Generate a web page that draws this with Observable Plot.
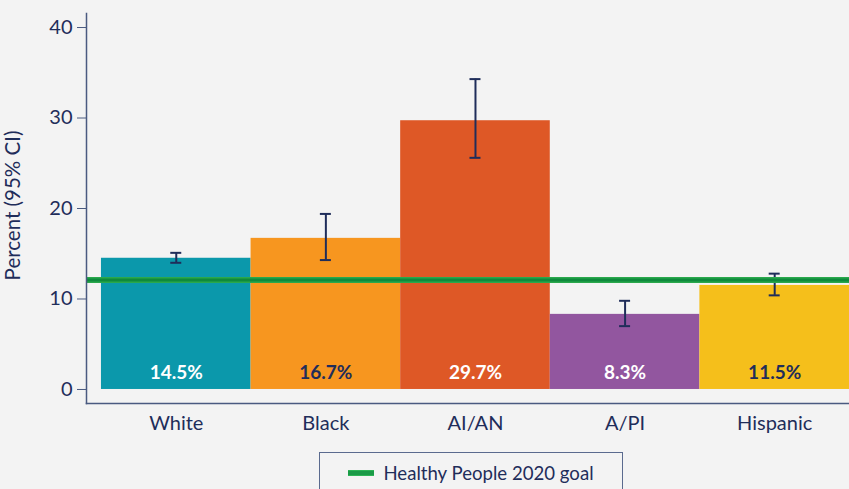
<!DOCTYPE html>
<html>
<head>
<meta charset="utf-8">
<script src="https://cdn.jsdelivr.net/npm/d3@7"></script>
<script src="https://cdn.jsdelivr.net/npm/@observablehq/plot@0.6"></script>
<style>
  html, body { margin: 0; padding: 0; background: #f3f3f3; }
  body { width: 849px; height: 489px; overflow: hidden; font-family: Lato, "Noto Sans", sans-serif; }
  #chart svg { display: block; }
  .legend {
    position: absolute; left: 319px; top: 452px; width: 304px; height: 42px;
    border: 1.5px solid #5a6a8e; box-sizing: border-box;
    display: flex; align-items: center; justify-content: center; gap: 9px;
    color: #1f2d5a; font-size: 18.6px; font-family: Lato, sans-serif;
  }
  .swatch { width: 26px; height: 6px; background: #1a9a47; border-top: 1px solid #2db456; border-bottom: 1px solid #2db456; box-sizing: border-box; }
</style>
</head>
<body>
<div id="chart"></div>
<div class="legend"><span class="swatch"></span><span>Healthy People 2020 goal</span></div>
<script>
const groups = ["White", "Black", "AI/AN", "A/PI", "Hispanic"];
const percents = [14.5, 16.7, 29.7, 8.3, 11.5];
const ciLow = [14.0, 14.3, 25.6, 7.0, 10.4];
const ciHigh = [15.1, 19.4, 34.3, 9.8, 12.8];
const barColors = ["#0b98ab", "#f7961f", "#de5826", "#92569f", "#f5bf1b"];
const labelColors = ["#ffffff", "#1f2d5a", "#ffffff", "#ffffff", "#1f2d5a"];
const goal = [12.1];
const yTicks = [0, 10, 20, 30, 40];
const yLabel = "Percent (95% CI)";

const data = groups.map((g, i) => ({
  group: g, value: percents[i], lo: ciLow[i], hi: ciHigh[i],
  color: barColors[i], labelColor: labelColors[i], label: percents[i].toFixed(1) + "%"
}));

const navy = "#1f2d5a";
const W = 849, H = 445, mL = 86, mR = 0;
const n = groups.length;
const pOuter = 0.05;
const step = (W - mL - mR) / (n + 2 * pOuter);
const capInset = (step - 11) / 2;

const chart = Plot.plot({
  width: W,
  height: H,
  marginLeft: mL,
  marginRight: mR,
  marginTop: 13,
  marginBottom: 42,
  style: { background: "#f3f3f3", fontFamily: "Lato, sans-serif", color: navy, overflow: "visible" },
  x: { domain: groups, paddingInner: 0, paddingOuter: pOuter, align: 1, round: false, label: null },
  y: { domain: [-1.55, 41.55], label: null },
  marks: [
    Plot.barY(data, { x: "group", y: "value", fill: "color" }),
    Plot.ruleX(data, { x: "group", y1: "lo", y2: "hi", stroke: navy, strokeWidth: 2 }),
    Plot.tickY(data, { x: "group", y: "lo", stroke: navy, strokeWidth: 2, insetLeft: capInset, insetRight: capInset }),
    Plot.tickY(data, { x: "group", y: "hi", stroke: navy, strokeWidth: 2, insetLeft: capInset, insetRight: capInset }),
    Plot.ruleY(goal, { stroke: "#2aa84c", strokeWidth: 6 }),
    Plot.ruleY(goal, { stroke: "#0f8a3c", strokeWidth: 3 }),
    Plot.text(data, { x: "group", y: 0, dy: -17, text: "label", fill: "labelColor", fontSize: 19, fontWeight: "bold" }),
    Plot.frame({ anchor: "left", stroke: "#4a5a80", strokeWidth: 1.5 }),
    Plot.frame({ anchor: "bottom", stroke: "#4a5a80", strokeWidth: 1.5 }),
    Plot.axisY({ ticks: yTicks, tickSize: 9, tickPadding: 5, fontSize: 20, stroke: "#4a5a80", color: navy, label: null }),
    Plot.axisX({ tickSize: 0, tickPadding: 12, fontSize: 20, color: navy, label: null }),
    Plot.text([yLabel], { frameAnchor: "left", textAnchor: "middle", dx: -73, dy: -3, rotate: -90, fontSize: 20.5, fill: navy })
  ]
});
document.getElementById("chart").appendChild(chart);
</script>
</body>
</html>
